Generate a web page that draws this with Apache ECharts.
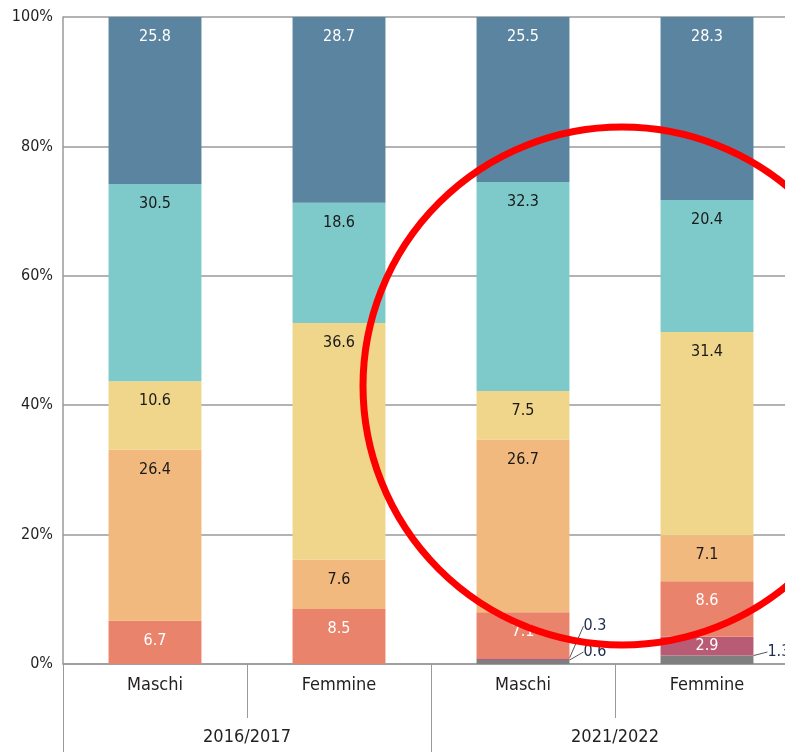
<!DOCTYPE html>
<html><head><meta charset="utf-8">
<script src="https://cdn.jsdelivr.net/npm/echarts@6/dist/echarts.min.js"></script>
<style>html,body{margin:0;padding:0;background:#fff;overflow:hidden}#c{width:799px;height:752px}</style>
</head><body><div id="c"></div>
<script>
const categories = ['Maschi', 'Femmine', 'Maschi', 'Femmine'];
const groups = ['2016/2017', '2021/2022'];
const yTicks = [0, 20, 40, 60, 80, 100];
const sGray = [null, null, 0.6, 1.3];
const sMagenta = [null, null, 0.3, 2.9];
const sSalmon = [6.7, 8.5, 7.1, 8.6];
const sOrange = [26.4, 7.6, 26.7, 7.1];
const sYellow = [10.6, 36.6, 7.5, 31.4];
const sTeal = [30.5, 18.6, 32.3, 20.4];
const sBlue = [25.8, 28.7, 25.5, 28.3];

const FONT = "'DejaVu Sans Condensed','Liberation Sans Narrow','Roboto',sans-serif";
const seriesDefs = [
  {name: 'gray', data: sGray, color: '#7f7f7f', text: '#fff'},
  {name: 'magenta', data: sMagenta, color: '#b85c75', text: '#fff'},
  {name: 'salmon', data: sSalmon, color: '#ea836b', text: '#fff'},
  {name: 'orange', data: sOrange, color: '#f1b97d', text: '#1a1a1a'},
  {name: 'yellow', data: sYellow, color: '#f0d68a', text: '#1a1a1a'},
  {name: 'teal', data: sTeal, color: '#7ecacb', text: '#1a1a1a'},
  {name: 'blue', data: sBlue, color: '#5b84a0', text: '#fff'}
];
function isSmall(v){ return v != null && v < 2; }
const chart = echarts.init(document.getElementById('c'));
const series = seriesDefs.map((d, si) => ({
  type: 'bar', name: d.name, stack: 'a', barWidth: '50.5%', xAxisIndex: 0,
  itemStyle: {color: d.color},
  data: d.data.map(v => {
    if (v == null) return null;
    if (isSmall(v)) {
      return {value: v, label: {position: 'inside', color: '#1f2d4d', fontFamily: FONT, fontSize: 16},
        labelLine: {show: true, lineStyle: {color: '#555', width: 1}}};
    }
    if (v < 4) return {value: v, label: {position: 'inside'}};
    return v;
  }),
  label: {show: true, position: 'insideTop', distance: 12, color: d.text, fontFamily: FONT, fontSize: 16,
    formatter: p => p.value == null ? '' : String(p.value)},
  labelLine: {show: false},
  labelLayout: function(params){
    const v = d.data[params.dataIndex];
    if (!isSmall(v)) return {};
    const r = params.rect;
    const up = (si === 1) ? 34 : 12;
    return {x: r.x + r.width + 14, y: r.y + r.height - up, align: 'left', verticalAlign: 'middle'};
  }
}));

chart.setOption({
  animation: false,
  grid: {left: 63, top: 17, right: 0, bottom: 88, containLabel: false},
  xAxis: [
    {type: 'category', data: categories, position: 'bottom',
     axisLine: {show: true, lineStyle: {color: '#9a9a9a', width: 1.5}},
     axisTick: {show: true, length: 54, lineStyle: {color: '#9a9a9a', width: 1}},
     axisLabel: {color: '#231f20', fontFamily: FONT, fontSize: 18, margin: 12}},
    {type: 'category', data: groups, position: 'bottom',
     axisLine: {show: false},
     axisTick: {show: true, length: 88, lineStyle: {color: '#9a9a9a', width: 1}},
     axisLabel: {color: '#231f20', fontFamily: FONT, fontSize: 18, margin: 64}}
  ],
  yAxis: {type: 'value', min: 0, max: 100, interval: 20,
    axisLine: {show: true, lineStyle: {color: '#9a9a9a', width: 1.5}},
    axisTick: {show: false},
    splitLine: {show: true, lineStyle: {color: '#9a9a9a', width: 1.5}},
    axisLabel: {formatter: v => yTicks.includes(v) ? v + '%' : '', color: '#231f20', fontFamily: FONT, fontSize: 16, margin: 10}},
  series: series,
  graphic: [{type: 'circle', shape: {cx: 622, cy: 386, r: 259}, style: {fill: 'none', stroke: '#ff0000', lineWidth: 7}, z: 100}]
});
</script></body></html>
